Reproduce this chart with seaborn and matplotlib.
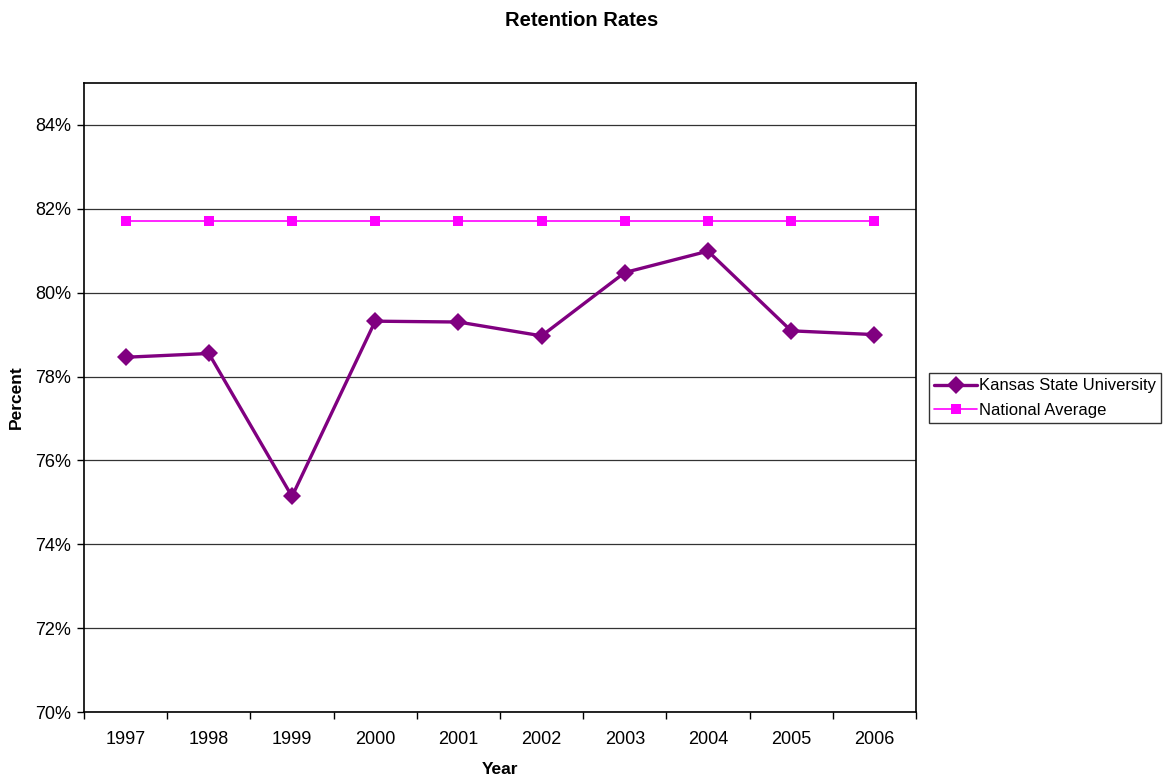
import matplotlib
matplotlib.use("Agg")
import matplotlib.pyplot as plt
from matplotlib.ticker import FixedLocator, FuncFormatter
import seaborn as sns
import pandas as pd

years = ["1997", "1998", "1999", "2000", "2001", "2002", "2003", "2004", "2005", "2006"]
kansas_state = [78.46, 78.55, 75.14, 79.32, 79.30, 78.97, 80.48, 80.99, 79.09, 79.00]
national_avg = [81.7, 81.7, 81.7, 81.7, 81.7, 81.7, 81.7, 81.7, 81.7, 81.7]
series_names = ["Kansas State University", "National Average"]

sns.set_theme(style="white")
plt.rcParams["font.family"] = ["Liberation Sans", "DejaVu Sans"]
plt.rcParams["text.color"] = "black"
plt.rcParams["axes.labelcolor"] = "black"
plt.rcParams["xtick.color"] = "black"
plt.rcParams["ytick.color"] = "black"

df = pd.DataFrame({
    "pos": list(range(len(years))) * 2,
    "value": kansas_state + national_avg,
    "series": [series_names[0]] * len(years) + [series_names[1]] * len(years),
})

fig = plt.figure(figsize=(11.64, 7.76), dpi=100)
ax = fig.add_axes([84 / 1164, 1 - 712 / 776, (916 - 84) / 1164, (712 - 83) / 776])

palette = {series_names[0]: "#800080", series_names[1]: "#FF00FF"}
markers = {series_names[0]: "D", series_names[1]: "s"}

sns.lineplot(data=df, x="pos", y="value", hue="series", style="series",
             palette=palette, markers=markers, dashes=False, ax=ax,
             legend=False)
lines = ax.get_lines()
lines[0].set_linewidth(2.4)
lines[0].set_markersize(9.5)
lines[0].set_markeredgewidth(0)
lines[1].set_linewidth(1.2)
lines[1].set_markersize(7)
lines[1].set_markeredgewidth(0)
lines[1].set_zorder(3)
lines[0].set_zorder(4)

ax.set_xlim(-0.5, len(years) - 0.5)
ax.set_ylim(70, 85)

# category labels at centres, tick marks at category boundaries
ax.xaxis.set_major_locator(FixedLocator([i - 0.5 for i in range(len(years) + 1)]))
ax.xaxis.set_minor_locator(FixedLocator(list(range(len(years)))))
ax.set_xticklabels([""] * (len(years) + 1))
ax.set_xticklabels(years, minor=True)
ax.tick_params(axis="x", which="major", direction="out", length=5, width=1,
               color="black", bottom=True)
ax.tick_params(axis="x", which="minor", length=0, labelsize=13, pad=14)

ax.set_yticks(list(range(70, 85, 2)))
ax.yaxis.set_major_formatter(FuncFormatter(lambda v, p: f"{v:.0f}%"))
ax.tick_params(axis="y", direction="out", length=5, width=1, color="black",
               left=True, labelsize=13, pad=4)

ax.grid(axis="y", color="#333333", linewidth=0.9)
ax.set_axisbelow(True)
for s in ax.spines.values():
    s.set_color("black")
    s.set_linewidth(1.2)

ax.set_xlabel("Year", fontsize=12.5, fontweight="bold", labelpad=10)
ax.set_ylabel("Percent", fontsize=12.5, fontweight="bold", labelpad=8)
fig.suptitle("Retention Rates", fontsize=14.5, fontweight="bold", y=1 - 20 / 776, va="center")

handles = [plt.Line2D([], [], color=palette[n], marker=markers[n],
                      linewidth=l.get_linewidth(), markersize=l.get_markersize(),
                      markeredgewidth=0)
           for n, l in zip(series_names, lines)]
leg = fig.legend(handles, series_names, loc="center left",
                 bbox_to_anchor=(929 / 1164, 1 - 398 / 776),
                 fontsize=12, frameon=True, fancybox=False, handlelength=2.6,
                 handletextpad=0.1, borderpad=0.3, labelspacing=0.55,
                 borderaxespad=0)
leg.get_frame().set_edgecolor("black")
leg.get_frame().set_linewidth(1.0)

fig.savefig("out.png", dpi=100, facecolor="white")
